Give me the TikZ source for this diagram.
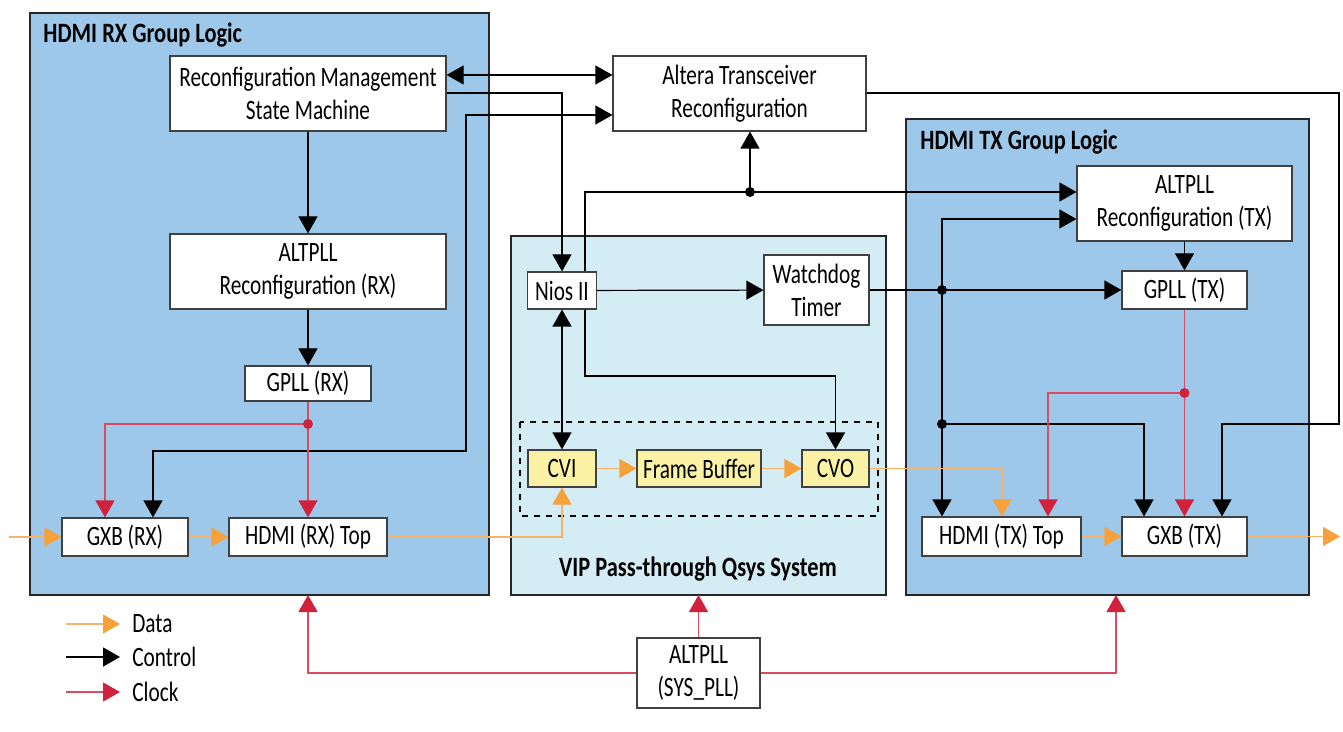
\documentclass[tikz,border=0pt]{standalone}
\usepackage{fontspec}
\setmainfont[FakeStretch=0.76, BoldFeatures={FakeStretch=0.80}]{Carlito}
\usetikzlibrary{arrows.meta}
\definecolor{grpblue}{HTML}{9DC8EA}
\definecolor{vipcyan}{HTML}{D4ECF4}
\definecolor{boxyel}{HTML}{FBF2A6}
\definecolor{orgD}{HTML}{F7A13A}
\definecolor{orgL}{HTML}{F5B36E}
\definecolor{redD}{HTML}{D0213D}
\definecolor{redL}{HTML}{DA4A62}
\definecolor{edge}{HTML}{404040}
\tikzset{
  txt/.style={font=\fontsize{14}{16.5}\selectfont},
  box/.style={draw=edge, line width=0.6pt, fill=white, align=center, inner sep=0pt, txt},
  ybox/.style={box, fill=boxyel},
  grp/.style={draw=black!85, line width=0.6pt},
  gtitle/.style={font=\fontsize{14}{16}\selectfont\bfseries, inner sep=0pt},
  ctl/.style={draw=black, line width=0.6pt, >={Triangle[length=8.5pt,width=9.5pt]}},
  dat/.style={draw=orgL, line width=0.6pt, >={Triangle[length=8.5pt,width=9.5pt,color=orgD]}},
  clk/.style={draw=redL, line width=0.6pt, >={Triangle[length=8.5pt,width=9.5pt,color=redD]}},
  dotb/.style={circle, fill=black, inner sep=0pt, minimum size=5pt},
  dotr/.style={circle, fill=redD, inner sep=0pt, minimum size=5pt},
}
\begin{document}
\begin{tikzpicture}[x=0.5pt,y=-0.5pt]
\useasboundingbox (0,0) rectangle (1343,732);
% group boxes
\draw[grp, fill=grpblue] (30,13) rectangle (489,595);
\draw[grp, fill=vipcyan] (511,236) rectangle (886,595);
\draw[grp, fill=grpblue] (906,119) rectangle (1309,595);
\draw[black, line width=0.6pt, dashed] (520,422) rectangle (878,516);
\node[gtitle, anchor=west] (trx) at (43,35) {HDMI RX Group Logic};
\node[gtitle, anchor=west] (ttx) at (920,142) {HDMI TX Group Logic};
\node[gtitle] (tvip) at (698,569) {VIP Pass-through Qsys System};

% nodes
\node[box, minimum width=138pt, minimum height=37.5pt] (rmsm) at (308,93.5) {Reconfiguration Management\\State Machine};
\node[box, minimum width=138pt, minimum height=37.5pt] (apllrx) at (308,271.5) {ALTPLL\\Reconfiguration (RX)};
\node[box, minimum width=63pt, minimum height=17.5pt] (gpllrx) at (308,383.5) {GPLL (RX)};
\node[box, minimum width=63pt, minimum height=19pt] (gxbrx) at (125,537) {GXB (RX)};
\node[box, minimum width=79pt, minimum height=19pt] (hdmirx) at (308,537) {HDMI (RX) Top};
\node[box, minimum width=126.5pt, minimum height=37.5pt] (alt) at (739.5,93.5) {Altera Transceiver\\Reconfiguration};
\node[box, minimum width=34.5pt, minimum height=18.5pt] (nios) at (562,290.5) {Nios II};
\node[box, minimum width=52.5pt, minimum height=35pt] (wdt) at (816.5,290) {Watchdog\\Timer};
\node[ybox, minimum width=34pt, minimum height=18.5pt] (cvi) at (562,468.5) {CVI};
\node[ybox, minimum width=62pt, minimum height=18.5pt] (fb) at (699,468.5) {Frame Buffer};
\node[ybox, minimum width=33.5pt, minimum height=18.5pt] (cvo) at (835.5,468.5) {CVO};
\node[box, minimum width=107.5pt, minimum height=37.5pt] (aplltx) at (1184.5,203.5) {ALTPLL\\Reconfiguration (TX)};
\node[box, minimum width=62.5pt, minimum height=19pt] (gplltx) at (1184.5,290) {GPLL (TX)};
\node[box, minimum width=79.5pt, minimum height=19.5pt] (hdmitx) at (1001.5,536.5) {HDMI (TX) Top};
\node[box, minimum width=62.5pt, minimum height=19.5pt] (gxbtx) at (1184.5,536.5) {GXB (TX)};
\node[box, minimum width=61.5pt, minimum height=35pt] (spll) at (698.5,673) {ALTPLL\\(SYS\_PLL)};

% junction coordinates
\coordinate (jrx) at (308,424);
\coordinate (jalt) at (750,192);
\coordinate (jw) at (942,290);
\coordinate (jw2) at (942,424);
\coordinate (jtx) at (1184.5,393);
\coordinate (din) at (9,537);
\coordinate (dout) at (1340,536.5);

% RX side control
\draw[ctl,<->] (rmsm.east |- 0,75) -- (alt.west |- 0,75);
\draw[ctl,->] (rmsm.east |- 0,93) -| (nios.north);
\draw[ctl,->] (rmsm) -- (apllrx);
\draw[ctl,->] (apllrx) -- (gpllrx);
\draw[ctl,<->] (153,0 |- gxbrx.north) -- (153,451) -- (466,451) -- (466,115) -- (alt.west |- 0,115);
% RX clocks
\draw[clk,->] (gpllrx) -- (hdmirx);
\draw[clk,->] (jrx) -| (105,0 |- gxbrx.north);
\node[dotr] at (jrx) {};
% RX data
\draw[dat,->] (din) -- (gxbrx.west);
\draw[dat,->] (gxbrx) -- (hdmirx);
\draw[dat,->] (hdmirx.east) -| (cvi.south);
% VIP
\draw[ctl,<->] (nios) -- (cvi);
\draw[ctl,->] (nios) -- (wdt);
\draw[ctl,->] (585,0 |- nios.north) -- (585,192) -- (aplltx.west |- 0,192);
\draw[ctl,->] (jalt) -- (alt.south -| jalt);
\node[dotb] at (jalt) {};
\draw[ctl,->] (585,0 |- nios.south) -- (585,376) -| (cvo.north);
\draw[dat,->] (cvi) -- (fb);
\draw[dat,->] (fb) -- (cvo);
% TX control
\draw[ctl,->] (wdt) -- (gplltx);
\draw[ctl,->] (jw) -- (942,219) -- (aplltx.west |- 0,219);
\draw[ctl,->] (jw) -- (jw |- hdmitx.north);
\draw[ctl,->] (jw2) -| (1144,0 |- gxbtx.north);
\node[dotb] at (jw) {};
\node[dotb] at (jw2) {};
\draw[ctl,->] (aplltx) -- (gplltx);
\draw[ctl,->] (alt.east |- 0,93) -- (1339,93) -- (1339,424) -| (1222,0 |- gxbtx.north);
% TX clocks
\draw[clk,->] (gplltx) -- (gxbtx);
\draw[clk,->] (jtx) -| (1048,0 |- hdmitx.north);
\node[dotr] at (jtx) {};
% TX data
\draw[dat,->] (cvo.east) -| (1002,0 |- hdmitx.north);
\draw[dat,->] (hdmitx) -- (gxbtx);
\draw[dat,->] (gxbtx) -- (dout);
% system PLL
\draw[clk,->] (spll.west) -| (308,595);
\draw[clk,->] (spll.north) -- (698.5,595);
\draw[clk,->] (spll.east) -| (1116,595);

% legend
\coordinate (l1a) at (66,624); \coordinate (l1b) at (120,624);
\coordinate (l2a) at (66,657); \coordinate (l2b) at (120,657);
\coordinate (l3a) at (66,692); \coordinate (l3b) at (120,692);
\draw[dat,->] (l1a) -- (l1b);
\draw[ctl,->] (l2a) -- (l2b);
\draw[clk,->] (l3a) -- (l3b);
\node[txt, anchor=west, inner sep=0pt] (lg1) at (132,624) {Data};
\node[txt, anchor=west, inner sep=0pt] (lg2) at (132,657) {Control};
\node[txt, anchor=west, inner sep=0pt] (lg3) at (132,692) {Clock};
\end{tikzpicture}
\end{document}
